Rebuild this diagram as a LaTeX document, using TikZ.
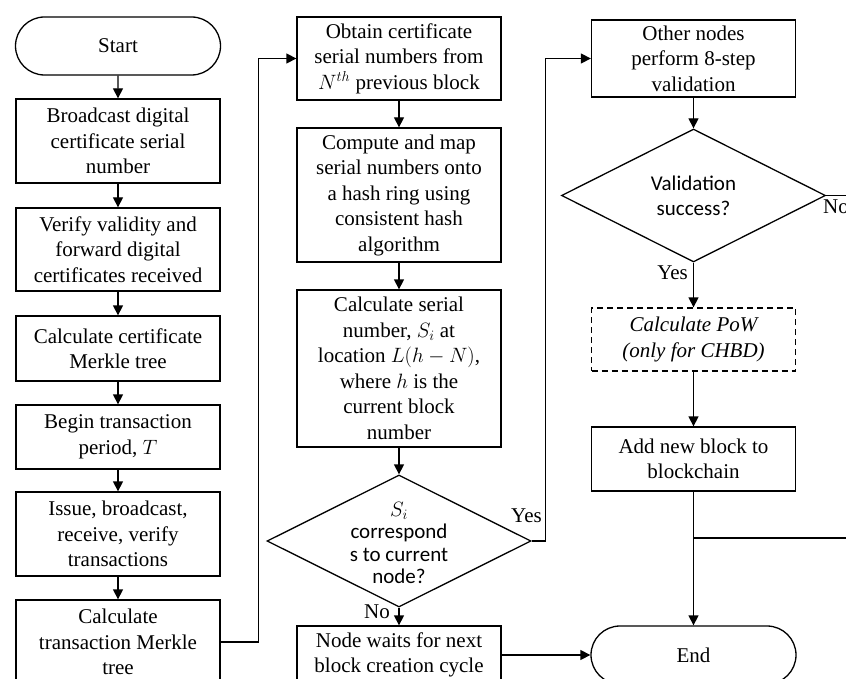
\documentclass[tikz,border=0pt]{standalone}
\usepackage{fontspec}
\setmainfont{Liberation Serif}
\newfontfamily\calib{Carlito}
\usetikzlibrary{shapes.geometric,shapes.misc,arrows.meta}
\begin{document}
\begin{tikzpicture}[x=1pt,y=-1pt,
  every node/.style={font=\fontsize{21}{25.5}\selectfont},
  box/.style={draw, line width=1.3pt, rectangle, minimum width=204pt, align=center, inner sep=0pt},
  term/.style={draw, line width=1.3pt, rounded rectangle, minimum width=205pt, minimum height=58pt, inner sep=0pt},
  dia/.style={draw, line width=1.3pt, diamond, minimum width=264pt, minimum height=132pt, inner sep=0pt},
  dtext/.style={font=\calib\fontsize{21}{25}\selectfont, align=center, inner sep=0pt},
  arr/.style={line width=1.3pt, -{Triangle[length=10pt,width=10pt]}},
  ln/.style={line width=1.3pt},
  lab/.style={font=\fontsize{21}{25}\selectfont, inner sep=0pt}
]
\useasboundingbox (0,0) rectangle (846,679);
\clip (0,0) rectangle (846,679);

% left column
\node[term] (start) at (118,46) {Start};
\node[box, minimum height=84pt] (b1) at (118,141) {Broadcast digital\\certificate serial\\number};
\node[box, minimum height=83pt] (b2) at (118,249.5) {Verify validity and\\forward digital\\certificates received};
\node[box, minimum height=65pt] (b3) at (118,348.5) {Calculate certificate\\Merkle tree};
\node[box, minimum height=64pt] (b4) at (118,437) {Begin transaction\\period, $T$};
\node[box, minimum height=84pt] (b5) at (118,534) {Issue, broadcast,\\receive, verify\\transactions};
\node[box, minimum height=84pt] (b6) at (118,642) {Calculate\\transaction Merkle\\tree};

% middle column
\node[box, minimum height=83pt] (b7) at (399,58.5) {Obtain certificate\\serial numbers from\\$N^{th}$ previous block};
\node[box, minimum height=134pt] (b8) at (399,195) {Compute and map\\serial numbers onto\\a hash ring using\\consistent hash\\algorithm};
\node[box, minimum height=157pt] (b9) at (399,368.5) {Calculate serial\\number, $S_i$ at\\location $L(h-N)$,\\where $h$ is the\\current block\\number};
\node[dia] (d1) at (399,541) {};
\node[dtext, font=\calib\fontsize{21}{22.5}\selectfont] (d1t) at (399,543) {$S_i$\\correspond\\s to current\\node?};
\node[box, minimum height=58pt] (b11) at (399,655) {Node waits for next\\block creation cycle};

% right column
\node[box, minimum height=77pt] (b10) at (693.5,58.5) {Other nodes\\perform 8-step\\validation};
\node[dia, minimum height=133pt] (d2) at (693.5,195.5) {};
\node[dtext] (d2t) at (693.5,196) {Validation\\success?};
\node[box, dash pattern=on 6pt off 4pt, minimum height=63pt] (pow) at (693.5,339.5) {\itshape Calculate PoW\\\itshape (only for CHBD)};
\node[box, minimum height=64pt] (add) at (693.5,459) {Add new block to\\blockchain};
\node[term] (end) at (693.5,655) {End};

\coordinate (jn) at (693.5,538);
\coordinate (jR) at (850,538);
\coordinate (noR) at (850,195.5);

% connectors
\draw[arr] (start) -- (b1);
\draw[arr] (b1) -- (b2);
\draw[arr] (b2) -- (b3);
\draw[arr] (b3) -- (b4);
\draw[arr] (b4) -- (b5);
\draw[arr] (b5) -- (b6);
\draw[arr] (b6.east) -- ++(38,0) |- (b7.west);
\draw[arr] (b7) -- (b8);
\draw[arr] (b8) -- (b9);
\draw[arr] (b9) -- (d1.north);
\draw[arr] (d1.south) -- (b11.north);
\draw[arr] (d1.east) -- ++(14,0) |- (b10.west);
\draw[arr] (b11.east) -- (end.west);
\draw[arr] (b10) -- (d2.north);
\draw[arr] (d2.south) -- (pow.north);
\draw[arr] (pow) -- (add);
\draw[arr] (add.south) -- (end.north);
\draw[ln] (jn) -- (jR);
\draw[ln] (d2.east) -- (noR);

% labels
\node[lab, anchor=east] (ly1) at (542,516) {Yes};
\node[lab, anchor=east] (ln1) at (390,612) {No};
\node[lab, anchor=east] (ly2) at (688,273) {Yes};
\node[lab, anchor=west] (ln2) at (823,207) {No};
\end{tikzpicture}
\end{document}
